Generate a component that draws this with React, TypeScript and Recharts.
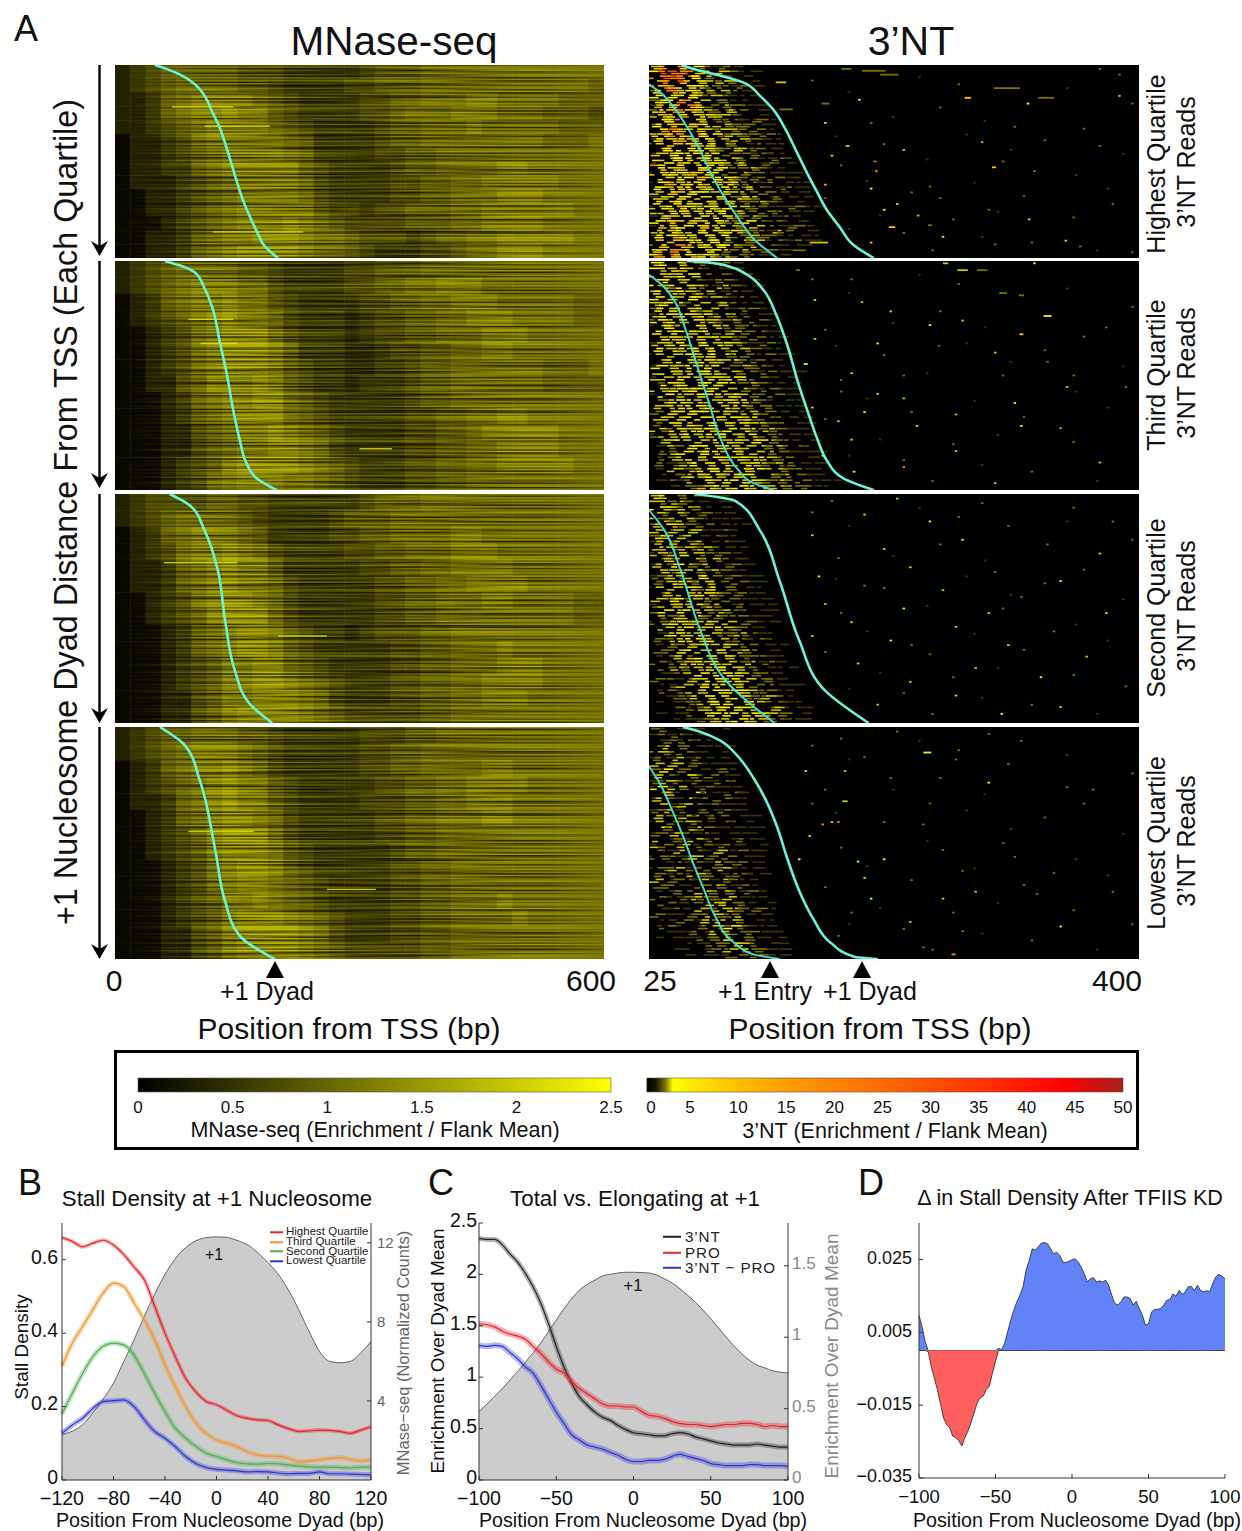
import { Area, Bar, BarChart, ComposedChart, Line, Scatter, ScatterChart, XAxis, YAxis } from 'recharts'

const FONT = '"Liberation Sans", Arial, sans-serif'

// ---- MNase-seq heatmaps: 14 rows x 32 bins, digit = enrichment shade
const MN_Q1 = [
  '12344444 33322222 34445555 55555555', '12345555 44322223 34445555 55555554',
  '11245666 65432222 33445556 65555444', '11245667 66432222 33455566 65554443',
  '11234566 66543222 23445556 55555444', '01123566 66654222 23445555 55554445',
  '01123456 66654222 23344555 55555555', '01122456 66664322 22344555 56655555',
  '01112345 66665322 22334455 66666555', '00112345 66665322 22334455 56665555',
  '00112345 66666433 23344455 66666655', '00012345 66676543 33344455 66665555',
  '00112456 67776554 33323445 56666655', '00112456 77776554 32223345 56665555',
]
const MN_Q2 = [
  '12345555 44322223 34445555 55555555', '12345666 55322223 34455666 55555555',
  '01245667 66432222 33445566 65555544', '01234567 66532221 23344556 66555544',
  '00123567 77532221 23344555 66655555', '00123567 77642221 12334455 66555555',
  '00123567 77643221 12234455 55554445', '00113466 67643221 22234455 55554444',
  '00012456 67754322 22234455 55555555', '00012456 77754322 22233445 56655555',
  '00011345 66765432 22233445 66666555', '00011345 66776532 22233445 56666555',
  '00012346 77776543 22233445 56666655', '00012356 77766543 22233445 55555555',
]
const MN_Q3 = [
  '12333344 33222222 34445555 55555555', '12345555 43222234 44555555 55555555',
  '01245666 54222233 44555566 55555555', '01235667 65322223 34455566 65555555',
  '01124567 66422222 33445566 66555555', '01124567 66532222 23344556 66655555',
  '00123567 76532222 23344555 66555544', '00123467 77532222 23344555 55555544',
  '00012456 77643221 23334455 55555555', '00012456 77643222 22334455 56555555',
  '00012346 67754322 22334455 56665555', '00012346 67765432 22334455 66665555',
  '00011346 67776532 22334455 66655555', '00011346 77776543 33334455 55555555',
]
const MN_Q4 = [
  '12344555 44322222 33344555 55555555', '12345666 54322222 33445555 55555555',
  '01245667 65322222 33445555 66555555', '01234567 66432222 23344556 66655555',
  '01124567 66432222 33344556 66555555', '00124567 76532222 23344555 66555555',
  '00123467 77532222 23344555 55555555', '00123467 77643222 22344555 55555555',
  '00012356 77643222 22334455 55555555', '00012356 77654322 22334455 55555555',
  '00012346 67654322 22334455 56555555', '00012346 77765432 22334455 55655555',
  '00011346 77776532 22334455 55555555', '00011346 77776543 33334455 55555555',
]
const MN_SHADES = ['#0a0900', '#232100', '#393700', '#4f4c00', '#666300', '#7a7600', '#918c00', '#a8a300']
// row-to-row streak level, read along the rows of the panels
const MN_STREAK =
  '463752647351624583425716356427465381467254362758461372546382514738654273651472364851362754721648573624658347516247356281'
// bright single rows: [start bp, end bp, row %]
const MN_BRIGHT_Q1 = [[120, 231, 86.5], [70, 145, 21.7], [110, 190, 31.7]]
const MN_BRIGHT_Q2 = [[90, 145, 25.5], [105, 150, 36], [300, 340, 82]]
const MN_BRIGHT_Q3 = [[60, 150, 30], [200, 260, 62]]
const MN_BRIGHT_Q4 = [[90, 170, 45], [260, 320, 70]]

// ---- 3'NT heatmaps: 40 rows x 24 bins of the dense region near the TSS
const NT_Q1 = [
  '35665421 21100000 00000000', '46766532 32110000 00000000', '36766432 21110000 00000000', '45675432 32110000 00000000',
  '35654432 21211000 00000000', '24654332 32110000 00000000', '34545423 21110000 00000000', '24456332 21100000 00000000',
  '13456542 32211000 00000000', '24565432 23211000 00000000', '13546543 32121000 00000000', '04465432 22112100 00000000',
  '24554543 32221100 00000000', '14653432 33212100 00000000', '35464544 23221210 00000000', '14545343 32321110 00000000',
  '25654434 32212110 00000000', '05464543 23322110 00000000', '15345434 32212111 00000000', '04544543 43221121 00000000',
  '16454344 32321211 00000000', '04535443 42232111 00000000', '15443544 32322111 10000000', '03544354 43212321 10000000',
  '14635443 34221211 11000000', '04354534 43232112 11000000', '03453443 43321211 10000000', '15344354 32432121 11000000',
  '04543443 43223211 10000000', '13454344 34322111 21100000', '05345343 42321221 11000000', '13534443 43232112 11000000',
  '04453534 32342121 11100000', '15344453 43223211 21000000', '03543344 34322132 11000000', '14454343 43232211 11100000',
  '05354434 32323121 21100000', '24565343 43223211 11000000', '35665434 32321211 10000000', '46654343 23221111 00000000',
]
const NT_Q2 = [
  '45443321 21100000 00000000', '44343212 11100000 00000000', '45334321 21110000 00000000', '34433212 21110000 00000000',
  '43424321 32111000 00000000', '34343232 12110000 00000000', '24433423 21211000 00000000', '33442332 32111000 00000000',
  '24343423 21221000 00000000', '13434342 32121100 00000000', '24343433 23212100 00000000', '13433434 32221100 00000000',
  '04344343 23122110 00000000', '23433434 32212110 00000000', '13344343 43211210 00000000', '04343434 32321110 00000000',
  '13434334 42221211 00000000', '03344343 34212111 00000000', '14334434 32322111 00000000', '03433443 43221211 10000000',
  '13344334 34322111 00000000', '02434343 43232111 10000000', '03343434 43321211 00000000', '13433444 34322121 10000000',
  '02344353 43432111 10000000', '03434434 34322211 10000000', '12343443 43233211 10000000', '03334344 34342211 11000000',
  '02433434 43433221 11000000', '03243443 34342321 11000000', '12334343 43343221 11000000', '02343434 34334322 11100000',
  '01323443 43433232 21100000', '02234344 34343321 11110000', '01233434 43434322 11100000', '02123443 34343232 21110000',
  '01232344 43434332 21110000', '01123434 34443323 21100000', '01212343 44343232 32111000', '00112234 34443332 22110000',
]
const NT_Q3 = [
  '34322211 10000000 00000000', '33232111 11000000 00000000', '24323211 11000000 00000000', '23232121 10000000 00000000',
  '32323211 11000000 00000000', '23432121 11100000 00000000', '13232311 21000000 00000000', '24323212 11000000 00000000',
  '13232321 21100000 00000000', '03323232 11100000 00000000', '13234321 21110000 00000000', '02332323 21100000 00000000',
  '13243232 12110000 00000000', '03323423 21110000 00000000', '12332342 12111000 00000000', '02343233 21211000 00000000',
  '13234324 22111000 00000000', '02323343 21211000 00000000', '03342332 32111000 00000000', '12333423 21211100 00000000',
  '02434332 32121100 00000000', '03233424 22211100 00000000', '12343343 23121100 00000000', '02334234 32211000 00000000',
  '01343343 22321100 00000000', '02234434 32212100 00000000', '01323343 43221110 00000000', '02234234 32321100 00000000',
  '01232343 43222110 00000000', '02123434 33231210 00000000', '01232334 43322111 00000000', '01123343 44322110 00000000',
  '02212334 34432211 00000000', '01123243 43322211 10000000', '01212334 44432211 00000000', '00122343 43422321 10000000',
  '01112234 34433221 10000000', '00121233 44433231 11000000', '01011234 44344322 11000000', '00011123 33443221 11000000',
]
const NT_Q4 = [
  '21211100 10000000 00000000', '12121110 00000000 00000000', '21212111 00000000 00000000', '12322111 10000000 00000000',
  '23212110 10000000 00000000', '12131211 10000000 00000000', '13231211 11000000 00000000', '21422111 21000000 00000000',
  '13214212 11000000 00000000', '12321211 21000000 00000000', '14132121 11100000 00000000', '02312411 12100000 00000000',
  '13213121 21100000 00000000', '03123212 11110000 00000000', '12312121 21100000 00000000', '03213112 21110000 00000000',
  '13123211 21110000 00000000', '04211321 11111000 00000000', '12132121 21110000 00000000', '03121312 11211000 00000000',
  '13213121 21111000 00000000', '02131212 31211000 00000000', '12212312 12111000 00000000', '03121213 21211000 00000000',
  '12231212 31111000 00000000', '02121322 12211000 00000000', '13122131 32111000 00000000', '02211223 21211000 00000000',
  '01122132 32121000 00000000', '02112322 23111000 00000000', '01211213 32211100 00000000', '01121232 33212100 00000000',
  '02111223 22311100 00000000', '01112132 33221100 00000000', '01211123 24211100 00000000', '00111213 33221110 00000000',
  '01011122 34221110 00000000', '00101112 24322111 00000000', '00011012 23322111 00000000', '00001011 12212111 00000000',
]
const NT_SHADES = ['#000000', '#3d3800', '#7d7200', '#d4c800', '#fff000', '#ffc800', '#ff8c00', '#ff4a00']
// length and placing of reads inside their bin, so they do not line up
const NT_JITTER = '720518394627150863942071536849205716384925061748392615078432'
// isolated reads: [bp, row %, shade, length bp]
const NT_SPECKS_Q1 = [
  [197, 3, 2, 18], [209, 5, 2, 14], [176, 2, 2, 8], [126, 9, 3, 8], [299, 12, 2, 20], [269, 17, 5, 5], [329, 17, 2, 12], [186, 18, 4, 2],
  [315, 20, 4, 2], [370, 2, 2, 1], [385, 5, 2, 1], [385, 16, 3, 1], [160, 20, 2, 6], [130, 23, 2, 10], [160, 30, 5, 2], [195, 30, 2, 2],
  [305, 32, 2, 2], [280, 40, 6, 1], [177, 42, 3, 3], [370, 42, 2, 2], [220, 44, 3, 2], [165, 47, 5, 2], [198, 50, 2, 3], [289, 53, 5, 3],
  [199, 55, 6, 1], [320, 55, 2, 2], [160, 62, 3, 2], [195, 64, 4, 2], [240, 63, 2, 2], [380, 72, 2, 1], [215, 72, 5, 1], [248, 69, 2, 2],
  [205, 75, 4, 1], [285, 75, 2, 2], [231, 78, 3, 1], [316, 80, 3, 2], [211, 84, 5, 5], [240, 83, 2, 3], [250, 89, 4, 1], [155, 92, 3, 14],
  [195, 92, 5, 2], [290, 93, 2, 1], [344, 91, 5, 1], [395, 97, 2, 1], [140, 96, 2, 10], [355, 94, 2, 1],
]
const NT_SPECKS_Q2 = [
  [252, 1, 3, 4], [265, 4, 3, 8], [280, 4, 2, 8], [320, 1, 4, 1], [139, 4, 2, 3], [180, 8, 2, 2], [296, 14, 2, 6], [310, 15, 2, 4],
  [152, 17, 5, 1], [188, 18, 3, 1], [210, 22, 5, 1], [330, 24, 4, 6], [265, 26, 3, 1], [240, 28, 4, 1], [160, 30, 2, 2], [375, 29, 2, 1],
  [310, 32, 5, 3], [152, 34, 3, 2], [200, 36, 4, 1], [247, 37, 2, 1], [145, 45, 4, 3], [290, 40, 3, 1], [330, 44, 2, 1], [180, 49, 3, 2],
  [220, 50, 2, 1], [350, 50, 2, 1], [172, 57, 2, 2], [390, 55, 2, 1], [200, 58, 5, 1], [345, 55, 3, 1], [220, 60, 3, 1], [150, 64, 5, 1],
  [305, 62, 4, 1], [190, 66, 4, 1], [260, 67, 3, 1], [170, 70, 3, 1], [230, 72, 5, 1], [340, 73, 6, 1], [180, 78, 5, 1], [310, 72, 4, 2],
  [158, 85, 5, 2], [260, 83, 3, 1], [220, 90, 6, 1], [370, 88, 3, 1], [182, 92, 4, 1], [290, 97, 3, 1],
]
const NT_SPECKS_Q3 = [
  [165, 3, 2, 1], [215, 2, 3, 1], [280, 4, 2, 1], [350, 6, 2, 1], [190, 9, 3, 2], [240, 12, 4, 1], [300, 14, 2, 1], [380, 12, 2, 1],
  [150, 18, 3, 2], [265, 20, 4, 1], [330, 22, 2, 1], [205, 24, 5, 1], [170, 28, 2, 1], [370, 26, 3, 2], [225, 32, 3, 2], [290, 34, 2, 1],
  [155, 36, 4, 1], [340, 38, 4, 1], [190, 40, 2, 2], [250, 42, 3, 1], [310, 45, 2, 1], [160, 48, 3, 1], [220, 50, 4, 2], [285, 52, 3, 1],
  [375, 52, 5, 1], [180, 56, 5, 1], [260, 58, 3, 2], [335, 60, 2, 1], [150, 62, 3, 1], [210, 64, 4, 1], [300, 66, 3, 2], [240, 70, 2, 1],
  [360, 71, 3, 1], [185, 74, 5, 1], [275, 76, 3, 1], [325, 80, 4, 1], [225, 82, 3, 1], [390, 84, 2, 1], [260, 88, 5, 2], [200, 92, 3, 1],
  [340, 93, 3, 1], [295, 96, 4, 1],
]
const NT_SPECKS_Q4 = [
  [172, 5, 2, 1], [215, 2, 2, 1], [285, 3, 2, 1], [310, 6, 2, 1], [238, 11, 4, 6], [190, 13, 2, 1], [260, 14, 2, 1], [145, 19, 5, 2],
  [300, 16, 2, 1], [175, 19, 3, 1], [285, 24, 4, 2], [210, 22, 2, 1], [160, 27, 2, 1], [345, 26, 2, 1], [175, 32, 3, 4], [365, 27, 2, 1],
  [150, 33, 2, 1], [240, 33, 2, 1], [165, 41, 5, 1], [158, 42, 6, 1], [170, 41, 6, 1], [235, 42, 2, 1], [148, 47, 5, 1], [250, 53, 2, 1],
  [140, 57, 4, 1], [205, 57, 4, 2], [185, 58, 4, 1], [305, 56, 2, 1], [190, 65, 5, 1], [265, 62, 2, 1], [335, 63, 2, 1], [380, 71, 2, 1],
  [275, 71, 3, 1], [250, 74, 3, 1], [322, 72, 2, 1], [195, 74, 4, 1], [180, 80, 2, 1], [340, 86, 4, 1], [225, 84, 3, 1], [265, 88, 2, 1],
  [258, 98, 6, 3], [235, 95, 2, 1], [170, 90, 2, 1], [395, 85, 2, 1],
]
// faint reads seen all over the far side of every 3'NT panel
const NT_SPECKS_FAINT = [
  [150, 8, 2, 1], [178, 14, 1, 2], [232, 6, 1, 1], [262, 10, 2, 1], [345, 12, 1, 2], [395, 20, 2, 1], [212, 27, 1, 2], [248, 22, 2, 1], [282, 29, 1, 1], [358, 33, 2, 1],
  [168, 37, 1, 2], [205, 41, 2, 1], [268, 36, 1, 2], [302, 44, 1, 1], [328, 39, 2, 1], [388, 46, 1, 1], [172, 52, 2, 1], [238, 49, 1, 2], [296, 50, 2, 1], [352, 57, 1, 2],
  [192, 60, 1, 1], [226, 66, 2, 1], [274, 61, 1, 1], [312, 68, 2, 1], [376, 64, 1, 2], [160, 69, 2, 1], [202, 78, 1, 2], [258, 80, 2, 1], [292, 76, 1, 1], [350, 79, 2, 1],
  [178, 85, 1, 1], [220, 87, 2, 1], [280, 89, 1, 2], [318, 92, 2, 1], [368, 96, 1, 1], [242, 96, 2, 1],
]

// ---- sorted dyad / entry positions: [bp, row %]
const MN_DYAD_Q1 = [[49, 0], [63, 2], [80, 5], [98, 10], [110, 16], [119, 24], [129, 33], [137, 43], [147, 57], [157, 70], [166, 79], [176, 88], [182, 93], [200, 100]]
const MN_DYAD_Q2 = [[61, 0], [80, 2], [98, 5], [110, 12], [120, 21], [129, 36], [137, 49], [145, 65], [153, 78], [161, 88], [174, 95], [198, 100]]
const MN_DYAD_Q3 = [[67, 0], [92, 5], [110, 16], [126, 33], [135, 55], [147, 77], [166, 92], [193, 100]]
const MN_DYAD_Q4 = [[55, 0], [86, 8], [104, 23], [123, 53], [135, 75], [153, 90], [196, 100]]
const NT_DYAD_Q1 = [[50, 0], [64, 3], [82, 6], [97, 9], [110, 16], [120, 23], [130, 34], [138, 45], [146, 56], [153, 65], [161, 75], [171, 84], [181, 93], [197, 100]]
const NT_ENTRY_Q1 = [[25, 10], [35, 15], [44, 22], [54, 32], [64, 44], [73, 57], [85, 71], [95, 81], [105, 90], [123, 100]]
const NT_DYAD_Q2 = [[54, 0], [69, 0.5], [87, 2.5], [100, 6], [113, 13], [122, 23], [131, 37], [139, 53], [146, 65], [154, 78], [161, 87], [174, 95], [197, 100]]
const NT_ENTRY_Q2 = [[25, 6], [36, 11], [45, 18], [53, 30], [62, 46], [71, 62], [80, 78], [93, 91], [105, 97], [120, 100]]
const NT_DYAD_Q3 = [[60, 0], [91, 3], [110, 16], [125, 38], [140, 64], [160, 86], [193, 100]]
const NT_ENTRY_Q3 = [[25, 7], [37, 16], [49, 33], [64, 59], [83, 81], [121, 100]]
const NT_DYAD_Q4 = [[51, 0], [64, 2], [80, 6], [92, 12], [105, 22], [114, 31], [123, 43], [131, 57], [141, 72], [151, 83], [164, 93], [182, 99], [200, 100]]
const NT_ENTRY_Q4 = [[25, 17], [33, 24], [42, 35], [51, 47], [59, 59], [67, 70], [76, 82], [90, 93], [105, 98], [125, 100]]

// ---- panel B
const B_POS = [-120, -112, -104, -96, -88, -80, -72, -64, -56, -48, -40, -32, -24, -16, -8, 0, 8, 16, 24, 32, 40, 48, 56, 64, 72, 80, 88, 96, 104, 112, 120]
const B_HIGHEST = [0.66, 0.65, 0.635, 0.645, 0.653, 0.64, 0.614, 0.58, 0.545, 0.473, 0.4, 0.336, 0.277, 0.24, 0.214, 0.205, 0.19, 0.175, 0.168, 0.164, 0.162, 0.15, 0.14, 0.132, 0.134, 0.136, 0.135, 0.132, 0.127, 0.136, 0.145]
const B_THIRD = [0.31, 0.373, 0.418, 0.464, 0.51, 0.536, 0.527, 0.482, 0.436, 0.382, 0.314, 0.255, 0.2, 0.155, 0.127, 0.109, 0.1, 0.091, 0.077, 0.068, 0.065, 0.065, 0.059, 0.05, 0.052, 0.055, 0.059, 0.061, 0.056, 0.052, 0.055]
const B_SECOND = [0.18, 0.236, 0.29, 0.336, 0.364, 0.373, 0.368, 0.34, 0.29, 0.236, 0.186, 0.141, 0.114, 0.091, 0.073, 0.064, 0.055, 0.047, 0.044, 0.043, 0.045, 0.044, 0.041, 0.038, 0.036, 0.035, 0.035, 0.034, 0.033, 0.035, 0.035]
const B_LOWEST = [0.127, 0.15, 0.168, 0.195, 0.214, 0.216, 0.218, 0.2, 0.164, 0.132, 0.114, 0.091, 0.064, 0.045, 0.034, 0.029, 0.027, 0.025, 0.022, 0.023, 0.022, 0.019, 0.017, 0.018, 0.018, 0.022, 0.017, 0.017, 0.016, 0.015, 0.014]
const B_MNASE = [2.3, 2.47, 2.8, 3.4, 4.1, 4.9, 6.0, 7.1, 8.3, 9.4, 10.4, 11.2, 11.75, 12.1, 12.26, 12.3, 12.27, 12.12, 11.9, 11.5, 11.0, 10.4, 9.6, 8.6, 7.5, 6.5, 6.0, 5.93, 6.0, 6.43, 7.0]
const B_LABELS = ['Highest Quartile', 'Third Quartile', 'Second Quartile', 'Lowest Quartile']
const B_COLORS = ['#e8222e', '#f0962a', '#4caf50', '#2b35d8']

// ---- panel C
const C_POS = [-100, -95, -90, -85, -80, -75, -70, -65, -60, -55, -50, -45, -40, -35, -30, -25, -20, -15, -10, -5, 0, 5, 10, 15, 20, 25, 30, 35, 40, 45, 50, 55, 60, 65, 70, 75, 80, 85, 90, 95, 100]
const C_NT = [2.35, 2.34, 2.34, 2.29, 2.2, 2.12, 2.01, 1.88, 1.72, 1.52, 1.3, 1.1, 0.94, 0.81, 0.73, 0.66, 0.61, 0.58, 0.53, 0.49, 0.46, 0.45, 0.44, 0.43, 0.43, 0.45, 0.46, 0.45, 0.42, 0.4, 0.38, 0.36, 0.35, 0.34, 0.34, 0.34, 0.35, 0.34, 0.33, 0.32, 0.32]
const C_PRO = [1.52, 1.51, 1.49, 1.45, 1.42, 1.4, 1.37, 1.3, 1.23, 1.15, 1.08, 1.04, 0.96, 0.89, 0.84, 0.79, 0.74, 0.72, 0.72, 0.71, 0.71, 0.67, 0.63, 0.62, 0.6, 0.57, 0.55, 0.54, 0.54, 0.53, 0.52, 0.53, 0.54, 0.54, 0.55, 0.55, 0.54, 0.52, 0.53, 0.52, 0.52]
const C_DIFF = [1.31, 1.3, 1.31, 1.3, 1.24, 1.18, 1.1, 1.04, 0.92, 0.79, 0.66, 0.55, 0.44, 0.39, 0.34, 0.32, 0.3, 0.27, 0.24, 0.2, 0.18, 0.18, 0.19, 0.19, 0.2, 0.23, 0.25, 0.23, 0.21, 0.19, 0.16, 0.15, 0.14, 0.14, 0.14, 0.15, 0.15, 0.14, 0.14, 0.14, 0.13]
const C_MNASE = [0.48, 0.53, 0.585, 0.64, 0.7, 0.76, 0.825, 0.89, 0.96, 1.04, 1.12, 1.2, 1.27, 1.33, 1.37, 1.4, 1.43, 1.44, 1.45, 1.455, 1.455, 1.453, 1.45, 1.435, 1.41, 1.38, 1.34, 1.295, 1.245, 1.19, 1.13, 1.065, 1.0, 0.94, 0.885, 0.84, 0.805, 0.785, 0.765, 0.755, 0.75]
const C_LABELS = ['3’NT', 'PRO', '3’NT − PRO']
const C_COLORS = ['#222222', '#e8222e', '#2b35d8']

// ---- panel D, one value every 2 bp from -100 to 100
const D_DELTA = [
  0.0097, 0.0065, 0.0025, -0.0003, -0.0044, -0.0075, -0.0107, -0.0144, -0.0185, -0.0203, -0.0212, -0.0235, -0.0239, -0.0248, -0.0262, -0.0239, -0.0221,
  -0.0198, -0.0171, -0.0144, -0.013, -0.0125, -0.0107, -0.0098, -0.0062, -0.003, 0.0006, 0.0002, 0.002, 0.0052, 0.0084, 0.0111, 0.0134, 0.0152, 0.0175,
  0.022, 0.0247, 0.0279, 0.0275, 0.0285, 0.0295, 0.0296, 0.0293, 0.0279, 0.0265, 0.027, 0.0261, 0.0243, 0.0241, 0.0245, 0.0249, 0.0252, 0.0243, 0.0229,
  0.0211, 0.0188, 0.0197, 0.02, 0.0188, 0.0191, 0.0188, 0.0193, 0.0179, 0.0152, 0.0129, 0.0125, 0.0134, 0.0147, 0.0147, 0.0143, 0.0125, 0.0135, 0.0115,
  0.0097, 0.007, 0.0073, 0.0106, 0.0113, 0.0113, 0.0115, 0.0125, 0.0138, 0.014, 0.0155, 0.0149, 0.0165, 0.0154, 0.0161, 0.0175, 0.0176, 0.0165, 0.0179,
  0.0165, 0.0161, 0.0164, 0.0161, 0.0184, 0.0202, 0.0209, 0.0204, 0.0197,
]
const D_STEP = 2

const MN_BAR_TICKS = [0, 0.5, 1, 1.5, 2, 2.5]
const NT_BAR_TICKS = [0, 5, 10, 15, 20, 25, 30, 35, 40, 45, 50]

const minus = (v: number | string) => String(v).replace('-', '−')
const strip = (rows: string[]) => rows.map((r) => r.replace(/ /g, ''))

const Txt = ({ x, y, size, rotate = 0, color = '#111', children }: any) => (
  <div
    style={{
      position: 'absolute',
      left: x,
      top: y,
      fontSize: size,
      color,
      lineHeight: 1,
      whiteSpace: 'nowrap',
      transform: `translate(-50%, -50%) rotate(${rotate}deg)`,
    }}
  >
    {children}
  </div>
)

const Cyan = ({ data, width = 2.6, color = '#6cf2d8' }: any) => (
  <Scatter
    data={data.map(([x, y]: number[]) => ({ x, y }))}
    dataKey="y"
    line={{ stroke: color, strokeWidth: width }}
    lineJointType="monotoneY"
    shape={() => <g />}
    isAnimationActive={false}
  />
)

const MnasePanel = ({ top, height, rows, bright, curve, shift }: any) => {
  const width = 489
  const grid = strip(rows)
  const binW = width / 32
  const binH = height / grid.length
  const cells = grid.flatMap((r: string, i: number) =>
    r.split('').map((c, j) => ({ x: ((j + 0.5) * 600) / 32, y: ((i + 0.5) * 100) / grid.length, v: +c }))
  )
  const nStreaks = Math.floor(height / 1.5)
  // overlapping runs along each row, faded at their ends by the gradient
  const segments = [[10, 260, 0], [120, 370, 37], [250, 500, 71], [360, 640, 101]]
  const streaks = segments.flatMap(([a, b, off]) =>
    Array.from({ length: nStreaks }, (_, i) => {
      const d = +MN_STREAK[(i + off + shift) % MN_STREAK.length]
      return { x: (a + b) / 2, y: ((i + 0.5) * 100) / nStreaks, d, w: b - a }
    })
  )
  const extra = bright.map(([a, b, y]: number[]) => ({ x: (a + b) / 2, y, w: b - a }))
  const pxPerBp = width / 600
  return (
    <div style={{ position: 'absolute', left: 115, top, width, height }}>
      <ScatterChart width={width} height={height} margin={{ top: 0, right: 0, bottom: 0, left: 0 }}>
        <defs>
          <linearGradient id="fadeDark" x1="0" y1="0" x2="1" y2="0">
            <stop offset={0} stopColor="#000" stopOpacity={0} />
            <stop offset={0.4} stopColor="#000" stopOpacity={1} />
            <stop offset={0.6} stopColor="#000" stopOpacity={1} />
            <stop offset={1} stopColor="#000" stopOpacity={0} />
          </linearGradient>
          <linearGradient id="fadeBright" x1="0" y1="0" x2="1" y2="0">
            <stop offset={0} stopColor="#ffff00" stopOpacity={0} />
            <stop offset={0.4} stopColor="#ffff00" stopOpacity={1} />
            <stop offset={0.6} stopColor="#ffff00" stopOpacity={1} />
            <stop offset={1} stopColor="#ffff00" stopOpacity={0} />
          </linearGradient>
        </defs>
        <XAxis type="number" dataKey="x" domain={[0, 600]} allowDataOverflow hide />
        <YAxis type="number" dataKey="y" domain={[0, 100]} reversed allowDataOverflow hide />
        <Scatter
          data={cells}
          dataKey="y"
          isAnimationActive={false}
          shape={(p: any) => (
            <rect x={p.cx - binW / 2} y={p.cy - binH / 2} width={binW + 0.5} height={binH + 0.5} fill={MN_SHADES[p.payload.v]} />
          )}
        />
        <Scatter
          data={streaks}
          dataKey="y"
          isAnimationActive={false}
          shape={(p: any) => {
            const d = p.payload.d
            const w = p.payload.w * pxPerBp
            return (
              <rect
                x={p.cx - w / 2}
                y={p.cy - 0.75}
                width={w}
                height={1.5}
                fill={d < 5 ? 'url(#fadeDark)' : 'url(#fadeBright)'}
                opacity={d < 5 ? (5 - d) * 0.17 : (d - 4) * 0.06}
              />
            )
          }}
        />
        <Scatter
          data={extra}
          dataKey="y"
          isAnimationActive={false}
          shape={(p: any) => {
            const w = p.payload.w * pxPerBp
            return <rect x={p.cx - w / 2} y={p.cy - 0.7} width={w} height={1.4} fill="#e8e400" opacity={0.85} />
          }}
        />
        {Cyan({ data: curve })}
      </ScatterChart>
    </div>
  )
}

const NtPanel = ({ top, height, rows, specks, dyad, entry }: any) => {
  const width = 490
  const grid = strip(rows)
  const pxPerBp = width / 375
  const binBp = 7
  const binW = binBp * pxPerBp
  const binH = height / grid.length
  // each bin holds up to two thin reads: its own level and its neighbour's, half a row lower
  const cells = grid
    .flatMap((r: string, i: number) =>
      r.split('').map((c, j) => ({
        x: 25 + (j + 0.5) * binBp,
        y: ((i + 0.5) * 100) / grid.length,
        v: +c,
        v2: +(r[j + 1] || 0),
        a: +NT_JITTER[(i * 7 + j) % NT_JITTER.length],
        b: +NT_JITTER[(i * 3 + j * 5 + 11) % NT_JITTER.length],
      }))
    )
    .filter((c: any) => c.v > 0 || c.v2 > 1)
  const reads = [...specks, ...NT_SPECKS_FAINT].map(([x, y, v, w]: number[]) => ({ x, y, v, w }))
  return (
    <div style={{ position: 'absolute', left: 649, top, width, height, background: '#000' }}>
      <ScatterChart width={width} height={height} margin={{ top: 0, right: 0, bottom: 0, left: 0 }}>
        <XAxis type="number" dataKey="x" domain={[25, 400]} allowDataOverflow hide />
        <YAxis type="number" dataKey="y" domain={[0, 100]} reversed allowDataOverflow hide />
        <Scatter
          data={cells}
          dataKey="y"
          isAnimationActive={false}
          shape={(p: any) => {
            const { v, v2, a, b } = p.payload
            return (
              <g>
                {a > 0 && (
                  <rect x={p.cx - binW * 0.5 + (b - 4.5) * binW * 0.08} y={p.cy - binH * 0.36} width={binW * (0.35 + a * 0.11)} height={1.6} fill={NT_SHADES[v]} />
                )}
                {v2 > 1 && b > 2 && (
                  <rect x={p.cx - binW * 0.2 + (a - 4.5) * binW * 0.08} y={p.cy + binH * 0.12} width={binW * (0.3 + b * 0.09)} height={1.5} fill={NT_SHADES[v2]} />
                )}
              </g>
            )
          }}
        />
        <Scatter
          data={reads}
          dataKey="y"
          isAnimationActive={false}
          shape={(p: any) => {
            const w = Math.max(p.payload.w * pxPerBp, 2.5)
            return <rect x={p.cx - w / 2} y={p.cy - 0.9} width={w} height={1.8} fill={NT_SHADES[p.payload.v]} />
          }}
        />
        {Cyan({ data: entry, width: 2, color: '#45dcd0' })}
        {Cyan({ data: dyad })}
      </ScatterChart>
    </div>
  )
}

const zipB = B_POS.map((x, i) => ({ x, q1: B_HIGHEST[i], q2: B_THIRD[i], q3: B_SECOND[i], q4: B_LOWEST[i], mn: B_MNASE[i] }))
const zipC = C_POS.map((x, i) => ({ x, nt: C_NT[i], pro: C_PRO[i], diff: C_DIFF[i], mn: C_MNASE[i] }))
const zipD = D_DELTA.map((v, i) => ({ x: -100 + i * D_STEP, pos: Math.max(v, 0), neg: Math.min(v, 0) }))

const axisLine = { stroke: '#333', strokeWidth: 1 }
const tickDark = { fill: '#111', fontSize: 19.5 }
const tickLeft = { fill: '#111', fontSize: 19.5, dy: -3 }

const bandLine = (key: string, color: string, band: number) => [
  <Line key={key + 'b'} yAxisId="l" type="monotone" dataKey={key} stroke={color} strokeOpacity={0.35} strokeWidth={band} dot={false} isAnimationActive={false} />,
  <Line key={key} yAxisId="l" type="monotone" dataKey={key} stroke={color} strokeWidth={1.2} dot={false} isAnimationActive={false} />,
]

const PanelB = () => (
  <div style={{ position: 'absolute', left: 22, top: 1215 }}>
    <ComposedChart width={383} height={297} data={zipB} margin={{ top: 8, right: 0, bottom: 0, left: 0 }}>
      <XAxis type="number" dataKey="x" domain={[-120, 120]} ticks={[-120, -80, -40, 0, 40, 80, 120]} height={32} axisLine={axisLine} tickLine={axisLine} tickSize={-4} tickMargin={15} tick={tickDark} tickFormatter={minus} />
      <XAxis xAxisId="t" type="number" dataKey="x" orientation="top" domain={[-120, 120]} height={0} tick={false} tickLine={false} axisLine={axisLine} />
      <YAxis yAxisId="l" domain={[0, 0.7]} ticks={[0, 0.2, 0.4, 0.6]} width={40} axisLine={axisLine} tickLine={axisLine} tickSize={-4} tickMargin={8} tick={tickLeft} />
      <YAxis yAxisId="r" orientation="right" domain={[0, 13]} ticks={[4, 8, 12]} width={34} axisLine={axisLine} tickLine={axisLine} tickSize={-4} tickMargin={10} tick={{ fill: '#666', fontSize: 15 }} />
      <Area yAxisId="r" type="monotone" dataKey="mn" fill="#cccccc" fillOpacity={1} stroke="#444" strokeWidth={0.8} dot={false} isAnimationActive={false} />
      {bandLine('q1', B_COLORS[0], 4)}
      {bandLine('q2', B_COLORS[1], 5)}
      {bandLine('q3', B_COLORS[2], 5)}
      {bandLine('q4', B_COLORS[3], 5)}
    </ComposedChart>
  </div>
)

const PanelC = () => (
  <div style={{ position: 'absolute', left: 441, top: 1209 }}>
    <ComposedChart width={387} height={303} data={zipC} margin={{ top: 14, right: 0, bottom: 0, left: 0 }}>
      <XAxis type="number" dataKey="x" domain={[-100, 100]} ticks={[-100, -50, 0, 50, 100]} height={32} axisLine={axisLine} tickLine={axisLine} tickSize={-4} tickMargin={15} tick={tickDark} tickFormatter={minus} />
      <XAxis xAxisId="t" type="number" dataKey="x" orientation="top" domain={[-100, 100]} height={0} tick={false} tickLine={false} axisLine={axisLine} />
      <YAxis yAxisId="l" domain={[0, 2.5]} ticks={[0, 0.5, 1, 1.5, 2, 2.5]} width={38} axisLine={axisLine} tickLine={axisLine} tickSize={-4} tickMargin={6} tick={tickLeft} />
      <YAxis yAxisId="r" orientation="right" domain={[0, 1.8]} ticks={[0, 0.5, 1, 1.5]} width={40} axisLine={axisLine} tickLine={axisLine} tickSize={-4} tickMargin={8} tick={{ fill: '#888', fontSize: 17, dy: -3 }} />
      <Area yAxisId="r" type="monotone" dataKey="mn" fill="#cccccc" fillOpacity={1} stroke="#444" strokeWidth={0.8} dot={false} isAnimationActive={false} />
      {bandLine('nt', C_COLORS[0], 5)}
      {bandLine('pro', C_COLORS[1], 6)}
      {bandLine('diff', C_COLORS[2], 6)}
    </ComposedChart>
  </div>
)

const PanelD = () => (
  <div style={{ position: 'absolute', left: 855, top: 1215 }}>
    <ComposedChart width={387} height={295} data={zipD} margin={{ top: 8, right: 17, bottom: 0, left: 0 }}>
      <XAxis type="number" dataKey="x" domain={[-100, 100]} ticks={[-100, -50, 0, 50, 100]} height={32} axisLine={axisLine} tickLine={axisLine} tickSize={-4} tickMargin={16} tick={{ fill: '#111', fontSize: 18.5 }} tickFormatter={minus} />
      <XAxis xAxisId="t" type="number" dataKey="x" orientation="top" domain={[-100, 100]} height={0} tick={false} tickLine={false} axisLine={axisLine} />
      <YAxis domain={[-0.035, 0.035]} ticks={[-0.035, -0.015, 0.005, 0.025]} width={64} axisLine={axisLine} tickLine={axisLine} tickSize={-4} tickMargin={11} tick={{ fill: '#111', fontSize: 18, dy: -2 }} tickFormatter={minus} />
      <YAxis yAxisId="r" orientation="right" domain={[-0.035, 0.035]} width={0} tick={false} tickLine={false} axisLine={axisLine} />
      <Area type="linear" dataKey="pos" baseValue={0} fill="#6282f8" fillOpacity={1} stroke="#333" strokeWidth={0.9} dot={false} isAnimationActive={false} />
      <Area type="linear" dataKey="neg" baseValue={0} fill="#ff5f5f" fillOpacity={1} stroke="#333" strokeWidth={0.9} dot={false} isAnimationActive={false} />
    </ComposedChart>
  </div>
)

const ColorBar = ({ left, width, domain, start = 0, zeroShift = 0, ticks, gradId, stops }: any) => (
  <div style={{ position: 'absolute', left: left - 20, top: 1074 }}>
    <BarChart width={width + 40} height={44} layout="vertical" data={[{ k: 'c', v: [start, domain] }]} margin={{ top: 4, right: 20, bottom: 0, left: 20 }} barCategoryGap={0}>
      <defs>
        <linearGradient id={gradId} x1="0" y1="0" x2="1" y2="0">
          {stops.map(([o, c]: [number, string]) => (
            <stop key={o} offset={o} stopColor={c} />
          ))}
        </linearGradient>
      </defs>
      <XAxis
        type="number"
        domain={[0, domain]}
        ticks={ticks}
        height={26}
        axisLine={false}
        tickLine={false}
        tick={(p: any) => (
          <text x={p.x + (p.payload.value === 0 ? zeroShift : 0)} y={p.y + 13} textAnchor="middle" fontSize={17} fill="#111">
            {p.payload.value}
          </text>
        )}
      />
      <YAxis type="category" dataKey="k" hide />
      <Bar dataKey="v" fill={`url(#${gradId})`} stroke="#555" strokeWidth={0.6} isAnimationActive={false} />
    </BarChart>
  </div>
)

const MN_STOPS = [[0, '#000000'], [1, '#ffff00']]
const NT_STOPS = [[0, '#000000'], [0.02, '#1a1a00'], [0.04, '#807a00'], [0.055, '#ffff00'], [0.15, '#ffcf00'], [0.3, '#ff9a00'], [0.5, '#ff6a00'], [0.7, '#ff3300'], [0.88, '#ff0000'], [1, '#a82020']]

const ARROWS = [[65, 256], [261, 488], [494, 723], [727, 959]]
const MARKERS = [275, 770, 862]
const QUARTILE_Y = [164, 375, 608, 843]
const QUARTILE_NAMES = ['Highest Quartile', 'Third Quartile', 'Second Quartile', 'Lowest Quartile']
const PANEL_TOP = [65, 261, 494, 727]
const PANEL_H = [193, 229, 229, 232]

const Annotations = () => (
  <svg width={1242} height={1531} style={{ position: 'absolute', left: 0, top: 0, pointerEvents: 'none' }}>
    {ARROWS.map(([a, b]) => (
      <g key={a}>
        <line x1={99.5} x2={99.5} y1={a} y2={b - 6} stroke="#000" strokeWidth={2.4} />
        <path d={`M${99.5} ${b} L${91} ${b - 15} L${99.5} ${b - 10} L${108} ${b - 15} Z`} fill="#000" />
      </g>
    ))}
    {MARKERS.map((x) => (
      <path key={x} d={`M${x} 961 L${x + 9} 978 L${x - 9} 978 Z`} fill="#000" />
    ))}
    <rect x={115.5} y={1051.5} width={1022} height={97} fill="none" stroke="#000" strokeWidth={3} />
  </svg>
)

const LegendRow = ({ x, y, color, size, label, lineW, gap, spacing = 0 }: any) => (
  <div style={{ position: 'absolute', left: x, top: y, display: 'flex', alignItems: 'center', transform: 'translateY(-50%)', fontSize: size, letterSpacing: spacing, lineHeight: 0.82, whiteSpace: 'nowrap', color: '#222' }}>
    <span style={{ display: 'inline-block', width: lineW, height: 2, background: color, marginRight: gap }} />
    {label}
  </div>
)

export default function App() {
  return (
    <div style={{ position: 'absolute', left: 0, top: 0, width: 1242, height: 1531, background: '#fff', fontFamily: FONT, overflow: 'hidden' }}>
      <MnasePanel top={PANEL_TOP[0]} height={PANEL_H[0]} rows={MN_Q1} bright={MN_BRIGHT_Q1} curve={MN_DYAD_Q1} shift={0} />
      <MnasePanel top={PANEL_TOP[1]} height={PANEL_H[1]} rows={MN_Q2} bright={MN_BRIGHT_Q2} curve={MN_DYAD_Q2} shift={11} />
      <MnasePanel top={PANEL_TOP[2]} height={PANEL_H[2]} rows={MN_Q3} bright={MN_BRIGHT_Q3} curve={MN_DYAD_Q3} shift={23} />
      <MnasePanel top={PANEL_TOP[3]} height={PANEL_H[3]} rows={MN_Q4} bright={MN_BRIGHT_Q4} curve={MN_DYAD_Q4} shift={53} />
      <NtPanel top={PANEL_TOP[0]} height={PANEL_H[0]} rows={NT_Q1} specks={NT_SPECKS_Q1} dyad={NT_DYAD_Q1} entry={NT_ENTRY_Q1} />
      <NtPanel top={PANEL_TOP[1]} height={PANEL_H[1]} rows={NT_Q2} specks={NT_SPECKS_Q2} dyad={NT_DYAD_Q2} entry={NT_ENTRY_Q2} />
      <NtPanel top={PANEL_TOP[2]} height={PANEL_H[2]} rows={NT_Q3} specks={NT_SPECKS_Q3} dyad={NT_DYAD_Q3} entry={NT_ENTRY_Q3} />
      <NtPanel top={PANEL_TOP[3]} height={PANEL_H[3]} rows={NT_Q4} specks={NT_SPECKS_Q4} dyad={NT_DYAD_Q4} entry={NT_ENTRY_Q4} />

      <Annotations />
      <Txt x={26} y={29} size={36}>A</Txt>
      <Txt x={394} y={41} size={40.5}>MNase-seq</Txt>
      <Txt x={911} y={41} size={41}>3’NT</Txt>
      <Txt x={66} y={512} size={32.3} rotate={-90}>+1 Nucleosome Dyad Distance From TSS (Each Quartile)</Txt>
      {QUARTILE_NAMES.map((q, i) => (
        <div key={q}>
          <Txt x={1156} y={QUARTILE_Y[i]} size={25} rotate={-90}>{q}</Txt>
          <Txt x={1186} y={QUARTILE_Y[i] - 2} size={25} rotate={-90}>3’NT Reads</Txt>
        </div>
      ))}
      <Txt x={114} y={981} size={30}>0</Txt>
      <Txt x={591} y={981} size={30}>600</Txt>
      <Txt x={660} y={981} size={30}>25</Txt>
      <Txt x={1117} y={981} size={30}>400</Txt>
      <Txt x={267} y={991} size={25}>+1 Dyad</Txt>
      <Txt x={765} y={991} size={25}>+1 Entry</Txt>
      <Txt x={870} y={991} size={25}>+1 Dyad</Txt>
      <Txt x={349} y={1029} size={30}>Position from TSS (bp)</Txt>
      <Txt x={880} y={1029} size={30}>Position from TSS (bp)</Txt>

      <ColorBar left={138} width={473} domain={2.5} ticks={MN_BAR_TICKS} gradId="mnBar" stops={MN_STOPS} />
      <ColorBar left={642} width={481} domain={50} start={0.5} zeroShift={9} ticks={NT_BAR_TICKS} gradId="ntBar" stops={NT_STOPS} />
      <Txt x={375} y={1131} size={21.5}>MNase-seq (Enrichment / Flank Mean)</Txt>
      <Txt x={895} y={1131} size={21.6}>3’NT (Enrichment / Flank Mean)</Txt>

      <PanelB />
      <PanelC />
      <PanelD />

      <Txt x={30} y={1183} size={36}>B</Txt>
      <Txt x={217} y={1199} size={22.3}>Stall Density at +1 Nucleosome</Txt>
      <Txt x={21} y={1347} size={19} rotate={-90}>Stall Density</Txt>
      <Txt x={403} y={1353} size={16.5} rotate={-90} color="#666">MNase−seq (Normalized Counts)</Txt>
      <Txt x={220} y={1521} size={19.7}>Position From Nucleosome Dyad (bp)</Txt>
      <Txt x={214} y={1255} size={16}>+1</Txt>
      {B_LABELS.map((l, i) => (
        <LegendRow key={l} x={270} y={1232 + i * 9.8} color={B_COLORS[i]} size={11.5} label={l} lineW={13} gap={3} />
      ))}

      <Txt x={441} y={1183} size={36}>C</Txt>
      <Txt x={635} y={1199} size={22.3}>Total vs. Elongating at +1</Txt>
      <Txt x={437} y={1351} size={19} rotate={-90}>Enrichment Over Dyad Mean</Txt>
      <Txt x={831} y={1356} size={19} rotate={-90} color="#888">Enrichment Over Dyad Mean</Txt>
      <Txt x={643} y={1521} size={19.7}>Position From Nucleosome Dyad (bp)</Txt>
      <Txt x={633} y={1285} size={16.5}>+1</Txt>
      {C_LABELS.map((l, i) => (
        <LegendRow key={l} x={663} y={1237 + i * 15.6} color={C_COLORS[i]} size={15.2} spacing={0.9} label={l} lineW={18} gap={4} />
      ))}

      <Txt x={871} y={1183} size={36}>D</Txt>
      <Txt x={1070} y={1199} size={21.5}>Δ in Stall Density After TFIIS KD</Txt>
      <Txt x={1077} y={1521} size={19.7}>Position From Nucleosome Dyad (bp)</Txt>
    </div>
  )
}
